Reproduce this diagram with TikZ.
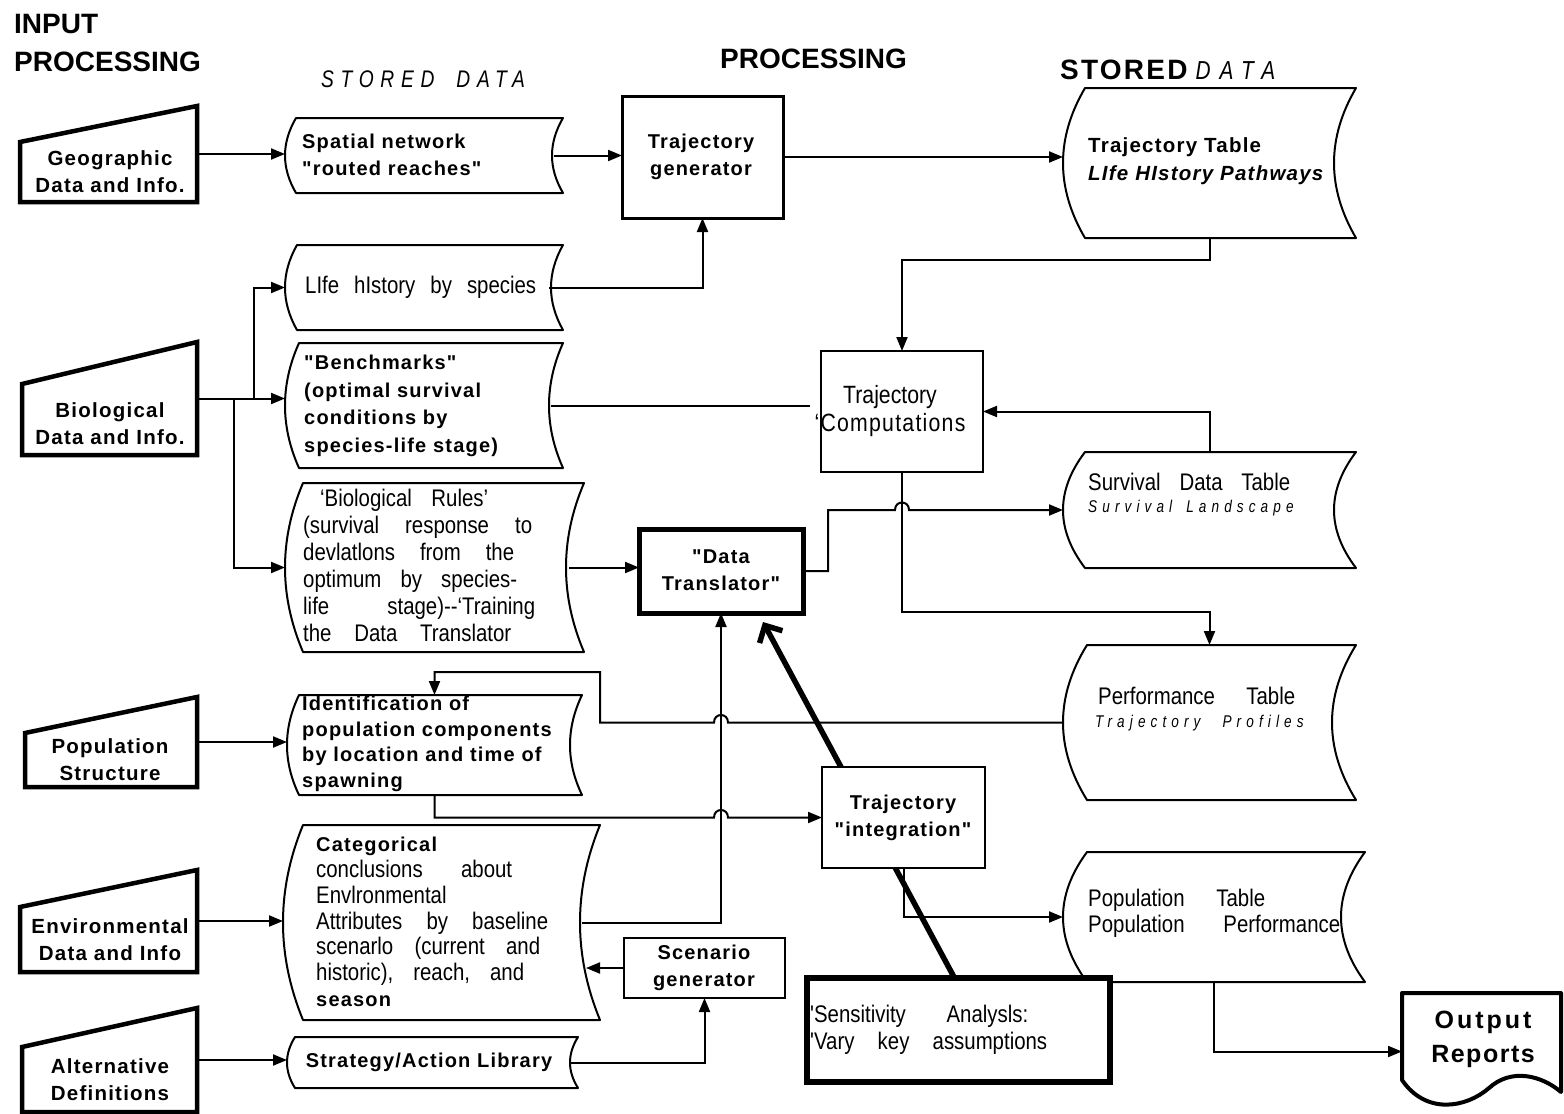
\documentclass[tikz,border=0pt]{standalone}
\usepackage{fontspec}
\setmainfont{Liberation Sans}
\newfontfamily\lab{Liberation Sans}[LetterSpace=6]
\newfontfamily\nar{Liberation Sans}[FakeStretch=0.85]
\newfontfamily\lit{Liberation Sans}[FakeStretch=0.8,LetterSpace=30]
\usetikzlibrary{arrows.meta,calc}
\pgfdeclarelayer{bg}
\pgfsetlayers{bg,main}
\newcommand\js[2]{\makebox[#1pt][s]{#2}}
\newcommand\frm[6][]{\node[frmst,#1,minimum width={(#5-#3)*1pt},minimum height={(#6-#4)*1pt}] (#2) at ({(#3+#5)/2},{(#4+#6)/2}) {};}
\newcommand\sdpath[2]{%
\draw[sdline] ($(#1.north west)+(#2,0)$) -- (#1.north east)
 .. controls ($(#1.north east)!0.3333!(#1.south east)+({-4/3*#2},0)$) and ($(#1.north east)!0.6667!(#1.south east)+({-4/3*#2},0)$) .. (#1.south east)
 -- ($(#1.south west)+(#2,0)$)
 .. controls ($(#1.south west)!0.3333!(#1.north west)+({-#2/3},0)$) and ($(#1.south west)!0.6667!(#1.north west)+({-#2/3},0)$) .. ($(#1.north west)+(#2,0)$) -- cycle;}
\newcommand\trap[2]{\draw[trapline] (#1.south west) -- ($(#1.north west)+(0,#2)$) -- (#1.north east) -- (#1.south east) -- cycle;}
\tikzset{
 frmst/.style={draw=none, inner sep=0, outer sep=0},
 bx/.style={draw, fill=white, line width=2.5pt},
 sdline/.style={line width=2pt, line join=round},
 trapline/.style={line width=4.5pt, line join=miter},
 ln/.style={line width=2pt},
 arr/.style={ln, -{Triangle[length=14pt,width=11pt]}},
 heavy/.style={line width=5.5pt, -{Straight Barb[length=13pt,width=26pt,line width=5.5pt]}},
 bt/.style={font=\lab\bfseries\fontsize{20}{26.5}\selectfont, inner sep=0, align=left, anchor=west},
 bc/.style={font=\lab\bfseries\fontsize{20}{26.5}\selectfont, inner sep=0, align=center},
 ib/.style={font=\lab\bfseries\fontsize{20.5}{27}\selectfont, inner sep=0, align=center},
 nt/.style={font=\nar\fontsize{24}{26.5}\selectfont, inner sep=0, align=left, anchor=west},
 lt/.style={font=\lit\itshape\fontsize{17}{20}\selectfont, inner sep=0, anchor=west},
 hd/.style={font=\bfseries\fontsize{28}{32}\selectfont, inner sep=0, anchor=base west},
}
\begin{document}
\begin{tikzpicture}[x=1pt,y=-1pt]
\useasboundingbox (0,0) rectangle (1564,1114);
\begin{pgfonlayer}{bg}
\fill[white] (0,0) rectangle (1564,1114);
\end{pgfonlayer}

% headers
\node[hd] (hInput) at (14,33) {INPUT};
\node[hd] (hProc) at (14,71) {PROCESSING};
\node[hd, font=\lit\itshape\fontsize{24}{28}\selectfont\addfontfeature{LetterSpace=28}] (hStored) at (321,87) {STORED\hspace{22pt}DATA};
\node[hd] (hProc2) at (720,68) {PROCESSING};
\node[hd] (hStored2) at (1060,79) {\addfontfeature{LetterSpace=8}STORED\hspace{8pt}{\lit\itshape\mdseries\fontsize{26}{28}\selectfont\addfontfeature{LetterSpace=35}DATA}};

% input trapezoids
\frm{geo}{20}{106}{197}{202} \trap{geo}{36}
\frm{bio}{22}{342}{197}{455} \trap{bio}{42}
\frm{popS}{25}{697}{197}{787} \trap{popS}{36}
\frm{env}{20}{870}{197}{972} \trap{env}{37}
\frm{alt}{22}{1008}{197}{1112} \trap{alt}{39}

% stored data (left column)
\frm{spat}{285}{118}{563}{193} \sdpath{spat}{11}
\frm{life}{285}{245}{563}{330} \sdpath{life}{12}
\frm{bench}{285}{343}{563}{468} \sdpath{bench}{14}
\frm{rules}{285}{483}{584}{652} \sdpath{rules}{18}
\frm{ident}{287}{695}{582}{795} \sdpath{ident}{12}
\frm{cat}{283}{825}{600}{1020} \sdpath{cat}{20}
\frm{strat}{287}{1037}{578}{1088} \sdpath{strat}{8}

% stored data (right column)
\frm{tt}{1063}{88}{1356}{238} \sdpath{tt}{22}
\frm{surv}{1063}{452}{1356}{568} \sdpath{surv}{22}
\frm{perf}{1063}{645}{1356}{800} \sdpath{perf}{24}
\frm{pop}{1063}{852}{1365}{982} \sdpath{pop}{24}

% processing boxes
\frm[bx, line width=3pt]{gen}{622}{96}{783}{218}
\frm[bx]{comp}{821}{351}{983}{472}
\frm[bx, line width=5pt]{trans}{639}{529}{803}{613}
\frm[bx]{integ}{822}{767}{985}{868}
\frm[bx, line width=2pt]{scen}{624}{938}{785}{998}
\frm[bx, line width=5.5pt]{sens}{807}{978}{1110}{1082}
\frm{out}{1402}{993}{1561}{1080}
\draw[line width=4pt, line join=round] (out.south west) -- (out.north west) -- (out.north east) -- ($(out.south east)+(0,12)$)
 .. controls ($(out.south east)+(-20,-5)$) and ($(out.south east)+(-50,-12)$) .. ($(out.south east)+(-72,8)$)
 .. controls ($(out.south east)+(-95,28)$) and ($(out.south east)+(-135,35)$) .. (out.south west) -- cycle;

% texts
\node[ib] (tGeo) at (110,172) {Geographic\\Data and Info.};
\node[ib] (tBio) at (110,424) {Biological\\Data and Info.};
\node[ib] (tPopS) at (110,760) {Population\\Structure};
\node[ib] (tEnv) at (110,940) {Environmental\\Data and Info};
\node[ib] (tAlt) at (110,1080) {Alternative\\Definitions};

\node[bt] (tSpat) at (302,155) {Spatial network\\"routed reaches"};
\node[nt] (tLife) at (305,287) {\js{231}{LIfe hIstory by species}};
\node[bt, font=\lab\bfseries\fontsize{20}{27.6}\selectfont] (tBench) at (304,406) {"Benchmarks"\\(optimal survival\\conditions by\\species-life stage)};
\node[nt, font=\nar\fontsize{24}{27}\selectfont] (tRules) at (303,565) {\hspace*{17pt}\js{168}{‘Biological Rules’}\\\js{229}{(survival response to}\\\js{211}{devlatlons from the}\\\js{214}{optimum by species-}\\\js{232}{life stage)-{}-‘Training}\\\js{208}{the Data Translator}};
\node[bt, font=\lab\bfseries\fontsize{20}{25.7}\selectfont] (tIdent) at (302,744) {Identification of\\population components\\by location and time of\\spawning};
\node[nt, font=\nar\fontsize{24}{25.8}\selectfont] (tCat) at (316,922) {{\lab\bfseries\fontsize{20}{25.8}\selectfont Categorical}\\\js{196}{conclusions about}\\Envlronmental\\\js{232}{Attributes by baseline}\\\js{224}{scenarlo (current and}\\\js{208}{historic), reach, and}\\{\lab\bfseries\fontsize{20}{25.8}\selectfont season}};
\node[bc] (tStrat) at (429,1062) {Strategy/Action Library};

\node[bc] (tGen) at (701,157) {Trajectory\\generator};
\node[font=\nar\fontsize{25}{28}\selectfont, align=center, inner sep=0] (tComp) at (890,411) {Trajectory\\{\addfontfeature{LetterSpace=5}‘Computations}};
\node[bc] (tTrans) at (721,570) {"Data\\Translator"};
\node[bc] (tInteg) at (903,818) {Trajectory\\"integration"};
\node[bc] (tScen) at (704,968) {Scenario\\generator};
\node[nt, font=\nar\fontsize{24}{27}\selectfont] (tSens) at (810,1030) {\js{218}{'Sensitivity Analysls:}\\\js{237}{'Vary key assumptions}};
\node[font=\lab\bfseries\fontsize{25}{34}\selectfont, align=center, inner sep=0] (tOut) at (1483,1039) {{\addfontfeature{LetterSpace=12}Output}\\Reports};

\node[bt, font=\lab\bfseries\fontsize{20.5}{28}\selectfont] (tTT) at (1088,161) {Trajectory Table\\\itshape LIfe HIstory Pathways};
\node[nt] (tSurv1) at (1088,482) {\js{202}{Survival Data Table}};
\node[lt] (tSurv2) at (1088,508) {Survival\hspace{14pt}Landscape};
\node[nt] (tPerf1) at (1098,696) {\js{197}{Performance Table}};
\node[lt] (tPerf2) at (1095,723) {Trajectory\hspace{22pt}Profiles};
\node[nt] (tPop1) at (1088,900) {\js{177}{Population Table}};
\node[nt] (tPop2) at (1088,926) {\js{252}{Population Performance}};

% connectors
\draw[arr] (geo.east) -- (geo.east -| spat.west);
\draw[arr] (bio.east) -- (bio.east -| bench.west);
\draw[arr] ([xshift=57pt]bio.east) |- (life.west);
\draw[arr] ([xshift=37pt]bio.east) |- (rules.west);
\draw[arr] (popS.east) -- (popS.east -| ident.west);
\draw[arr] (env.east) -- (env.east -| cat.west);
\draw[arr] (alt.east) -- (alt.east -| strat.west);
\draw[arr] ([xshift=-9pt]spat.east) -- (spat.east -| gen.west);
\draw[arr] (gen.east) -- (gen.east -| tt.west);
\draw[arr] ([xshift=-14pt]life.east) -| (gen.south);
\draw[arr] (tt.south) -- ++(0,22) -| (comp.north);
\draw[ln] ([xshift=-12pt]bench.east) -- ([xshift=-11pt]bench.east -| comp.west);
\draw[arr] (surv.north) |- (comp.east);
\draw[arr] ([xshift=-15pt]rules.east) -- (rules.east -| trans.west);
\draw[arr] (trans.east) -- ++(25,0) |- ($(comp.south |- surv.west)+(-7,0)$)
  .. controls +(0,-10) and +(0,-10) .. ($(comp.south |- surv.west)+(7,0)$) -- (surv.west);
\draw[arr] (comp.south) -- ++(0,140) -| (perf.north);
\coordinate (k1) at (600,672);
\draw[arr] (perf.west) -- ($(trans.south |- perf.west)+(7,0)$)
  .. controls +(0,-10) and +(0,-10) .. ($(trans.south |- perf.west)+(-7,0)$) -- (k1 |- perf.west) -- (k1) -| (ident.north);
\draw[arr] (ident.south) |- ($(trans.south |- integ.west)+(-7,0)$)
  .. controls +(0,-10) and +(0,-10) .. ($(trans.south |- integ.west)+(7,0)$) -- (integ.west);
\draw[arr] ([xshift=-18pt]cat.east) -| (trans.south);
\draw[arr] (scen.west) -- ([xshift=-14pt]scen.west -| cat.east);
\draw[arr] ([xshift=-7pt]strat.east) -| (scen.south);
\draw[arr] (integ.south) |- (pop.west);
\draw[arr] (pop.south) |- ([yshift=-15pt]out.west);
\begin{pgfonlayer}{bg}
\draw[heavy] ([xshift=-4pt]sens.north) -- ([xshift=-40pt,yshift=-9pt]trans.south east);
\end{pgfonlayer}
\end{tikzpicture}
\end{document}
